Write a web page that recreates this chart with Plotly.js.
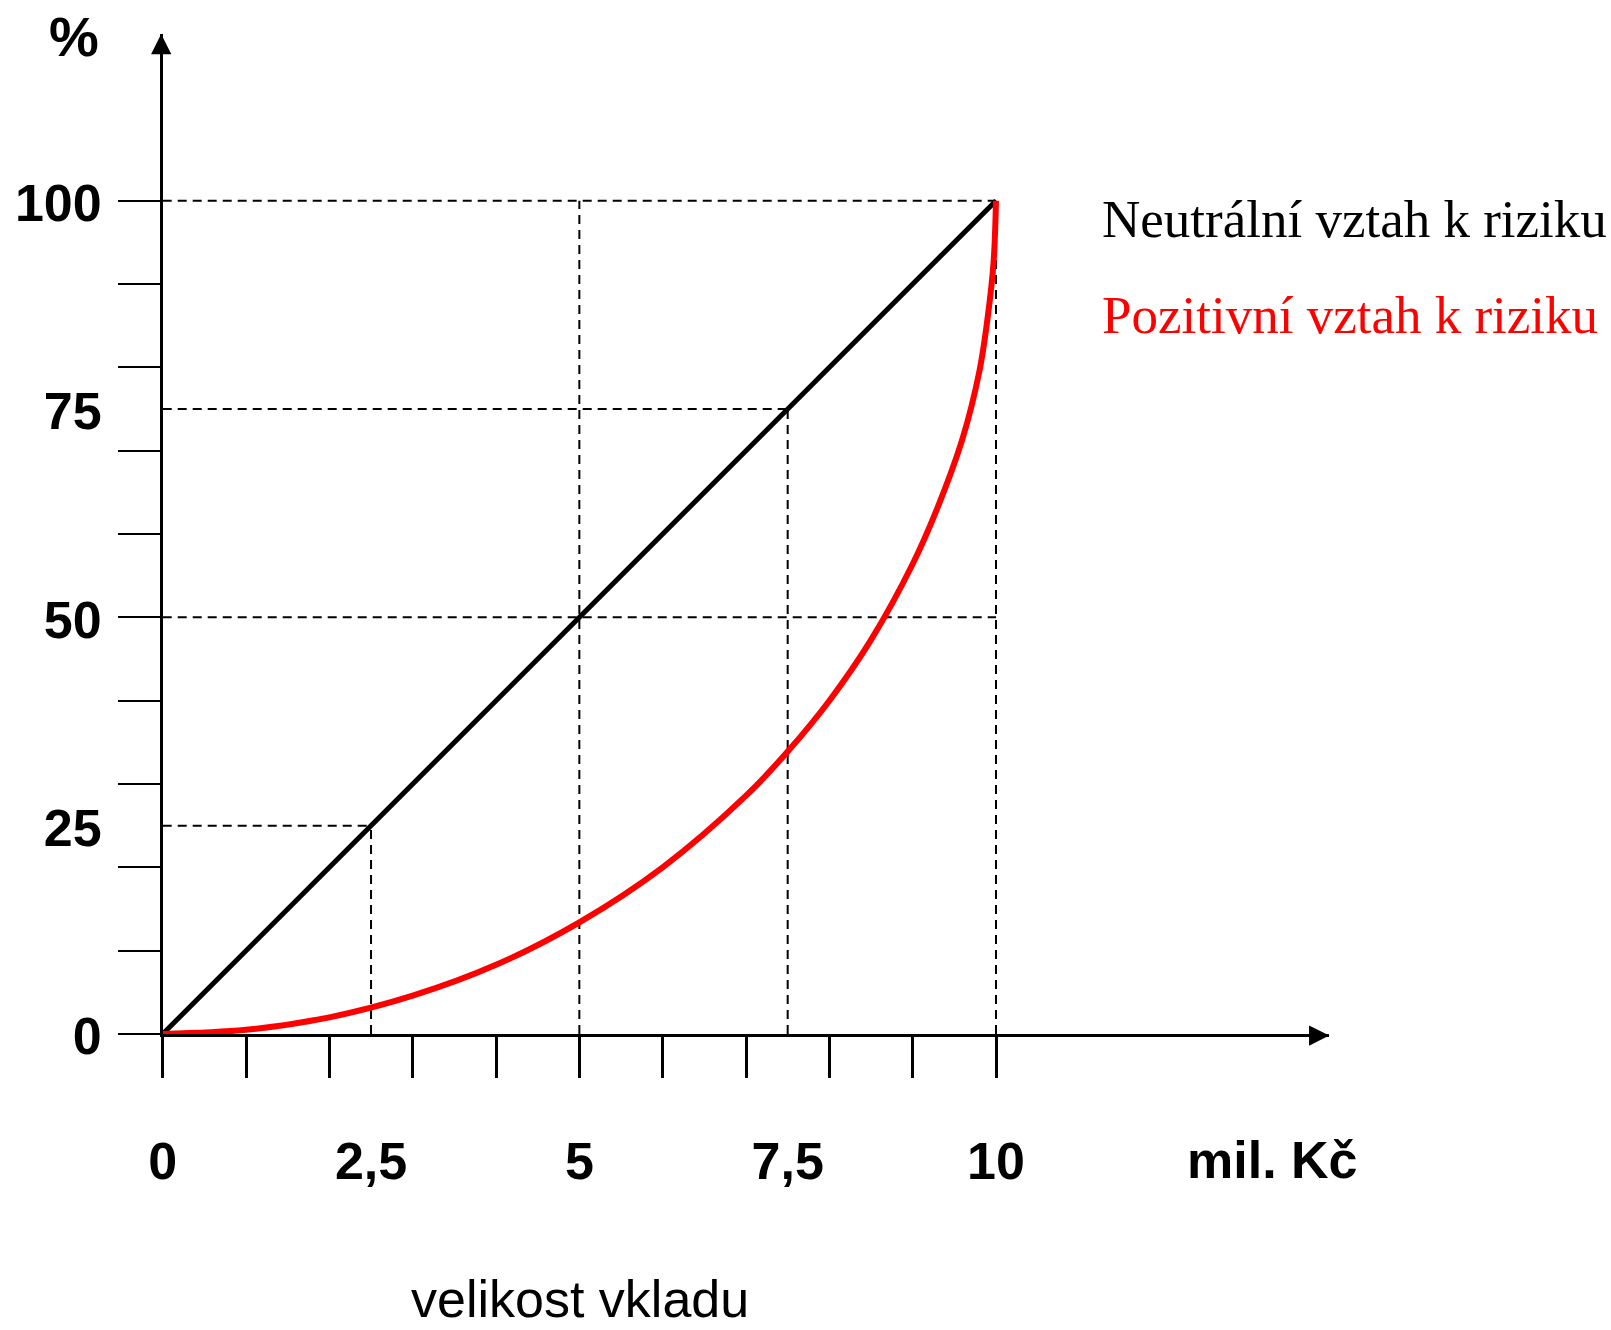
<!DOCTYPE html>
<html><head><meta charset="utf-8">
<script src="https://cdn.plot.ly/plotly-3.0.1.min.js"></script>
<style>html,body{margin:0;padding:0;background:#fff;} #chart{width:1611px;height:1330px;}</style>
</head><body><div id="chart"></div>
<script>
// ---- data ----
const depositX = [0, 10];              // velikost vkladu, mil. Kč
const neutralY = [0, 100];             // %
const positiveX = [0, 1, 2, 3, 4, 5, 6, 7, 7.5, 8, 8.5, 9, 9.3, 9.6, 9.8, 9.9, 9.97, 10];
const positiveY = [0, 0.5, 2, 4.6, 8.3, 13.4, 20, 28.6, 33.9, 40, 47.3, 56.4, 63.2, 71.5, 79.5, 86, 92.5, 100];
const seriesNames = ['Neutrální vztah k riziku', 'Pozitivní vztah k riziku'];
const xTickVals = [0, 1, 2, 3, 4, 5, 6, 7, 8, 9, 10];
const yTickVals = [0, 10, 20, 30, 40, 50, 60, 70, 80, 90, 100];
const xLabelVals = [0, 2.5, 5, 7.5, 10];
const xLabelText = ['0', '2,5', '5', '7,5', '10'];
const yLabelVals = [0, 25, 50, 75, 100];
const yLabelText = ['0', '25', '50', '75', '100'];
const hGuideY = [100, 75, 50, 25];
const hGuideXEnd = [10, 7.5, 10, 2.5];
const vGuideX = [10, 7.5, 5, 2.5];
const vGuideYEnd = [100, 75, 100, 25];
const xUnit = 'mil. Kč';
const yUnit = '%';
const xTitle = 'velikost vkladu';

// ---- geometry ----
const W = 1611, H = 1330;
const x0px = 162.7, pxPerX = 83.33, xMax = 14;
const y0px = 1034, pxPerY = 8.333, yMax = 120;
const px = v => v / W;
const py = v => 1 - v / H;
const xDomain = [px(x0px), px(x0px + xMax * pxPerX)];
const yDomain = [py(y0px), py(y0px - yMax * pxPerY)];

// guides
const gx = [], gy = [];
hGuideY.forEach((v, i) => { gx.push(0, hGuideXEnd[i], null); gy.push(v, v, null); });
vGuideX.forEach((v, i) => { gx.push(v, v, null); gy.push(0, vGuideYEnd[i], null); });

const traces = [
  {x: gx, y: gy, type: 'scatter', mode: 'lines', hoverinfo: 'skip',
   line: {color: '#000', width: 2, dash: '9px,6px'}},
  {x: depositX, y: neutralY, type: 'scatter', mode: 'lines', name: seriesNames[0],
   line: {color: '#000000', width: 5}},
  {x: positiveX, y: positiveY, type: 'scatter', mode: 'lines', name: seriesNames[1],
   line: {color: '#ff0000', width: 6, shape: 'spline', smoothing: 1}},
  {x: [null], y: [null], xaxis: 'x2', yaxis: 'y2', type: 'scatter', mode: 'markers', hoverinfo: 'skip'}
];

const boldFont = {family: 'Liberation Sans, Arial, sans-serif', size: 52, color: '#000', weight: 700};

const layout = {
  width: W, height: H,
  margin: {l: 0, r: 0, t: 0, b: 0, pad: 0},
  paper_bgcolor: '#fff', plot_bgcolor: '#fff',
  showlegend: false,
  xaxis: {domain: xDomain, range: [0, xMax], showgrid: false, zeroline: false,
          showline: true, linecolor: '#000', linewidth: 3,
          tickmode: 'array', tickvals: xTickVals, ticks: 'outside', ticklen: 41, tickwidth: 3, tickcolor: '#000',
          showticklabels: false, fixedrange: true},
  yaxis: {domain: yDomain, range: [0, yMax], showgrid: false, zeroline: false,
          showline: true, linecolor: '#000', linewidth: 3,
          tickmode: 'array', tickvals: yTickVals, ticks: 'outside', ticklen: 42, tickwidth: 2, tickcolor: '#000',
          showticklabels: false, fixedrange: true},
  xaxis2: {overlaying: 'x', anchor: 'y', side: 'bottom', range: [0, xMax], showgrid: false, zeroline: false,
           showline: false, ticks: '', tickmode: 'array', tickvals: xLabelVals, ticktext: xLabelText,
           tickfont: boldFont, ticklabelstandoff: 92, fixedrange: true},
  yaxis2: {overlaying: 'y', anchor: 'x', side: 'left', range: [0, yMax], showgrid: false, zeroline: false,
           showline: false, ticks: '', tickmode: 'array', tickvals: yLabelVals, ticktext: yLabelText,
           tickfont: boldFont, ticklabelstandoff: 60, ticklabelshift: 2, fixedrange: true},
  annotations: [
    {xref: 'x', yref: 'y', axref: 'x', ayref: 'y', x: xMax, y: 0, ax: xMax - 0.25, ay: 0, text: '', yshift: -1.5,
     showarrow: true, arrowhead: 2, arrowsize: 1.35, arrowwidth: 3, arrowcolor: '#000', standoff: 0},
    {xref: 'x', yref: 'y', axref: 'x', ayref: 'y', x: 0, y: yMax, ax: 0, ay: yMax - 2.5, text: '', xshift: -1.5,
     showarrow: true, arrowhead: 2, arrowsize: 1.35, arrowwidth: 3, arrowcolor: '#000', standoff: 0},
    {xref: 'paper', yref: 'paper', x: px(74), y: py(36), xanchor: 'center', yanchor: 'middle',
     text: yUnit, showarrow: false, font: {family: 'Liberation Sans, Arial, sans-serif', size: 56, color: '#000', weight: 700}},
    {xref: 'paper', yref: 'paper', x: px(1272), y: py(1160), xanchor: 'center', yanchor: 'middle',
     text: xUnit, showarrow: false, font: boldFont},
    {xref: 'paper', yref: 'paper', x: px(580), y: py(1330), xanchor: 'center', yanchor: 'bottom',
     text: xTitle, showarrow: false, font: {family: 'Liberation Sans, Arial, sans-serif', size: 52, color: '#000'}},
    {xref: 'paper', yref: 'paper', x: px(1100), y: py(219), xanchor: 'left', yanchor: 'middle',
     text: seriesNames[0], showarrow: false, font: {family: 'Liberation Serif, Times New Roman, serif', size: 53, color: '#000000'}},
    {xref: 'paper', yref: 'paper', x: px(1100), y: py(315), xanchor: 'left', yanchor: 'middle',
     text: seriesNames[1], showarrow: false, font: {family: 'Liberation Serif, Times New Roman, serif', size: 53, color: '#ff0000'}}
  ]
};

Plotly.newPlot('chart', traces, layout, {displayModeBar: false, staticPlot: true});
</script>
</body></html>
